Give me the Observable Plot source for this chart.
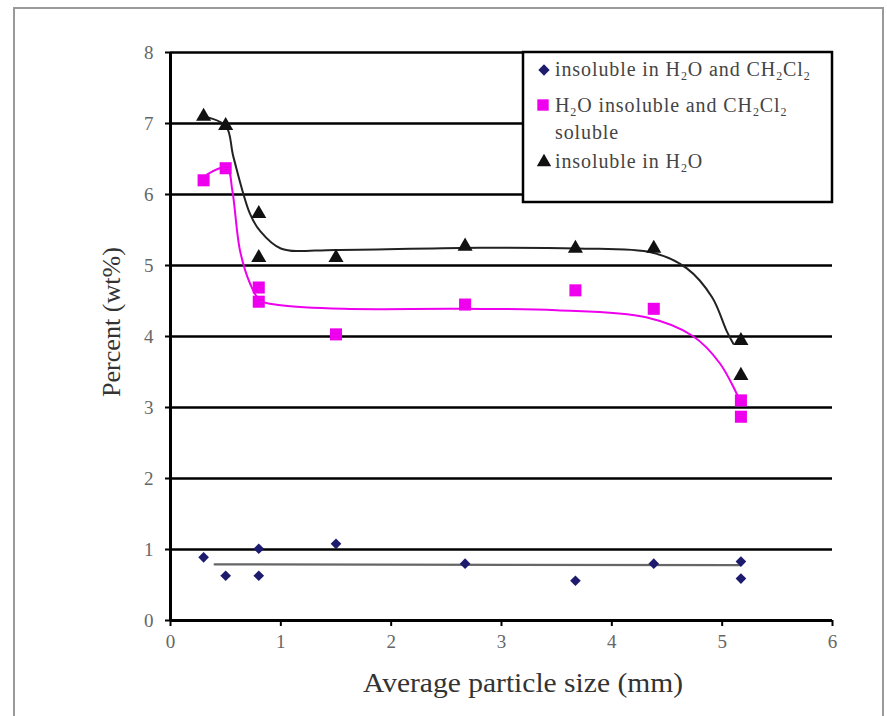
<!DOCTYPE html>
<html>
<head>
<meta charset="utf-8">
<script src="https://cdn.jsdelivr.net/npm/d3@7"></script>
<script src="https://cdn.jsdelivr.net/npm/@observablehq/plot@0.6"></script>
<style>
  html, body { margin: 0; padding: 0; background: #fff; }
  #chart { width: 887px; height: 716px; overflow: hidden; }
</style>
</head>
<body>
<div id="chart"></div>
<script>
// ---- data ----
const xTicks = [0, 1, 2, 3, 4, 5, 6];
const yTicks = [0, 1, 2, 3, 4, 5, 6, 7, 8];

// insoluble in H2O and CH2Cl2 (navy diamonds)
const bothX = [0.3, 0.5, 0.8, 0.8, 1.5, 2.67, 3.67, 4.38, 5.17, 5.17];
const bothY = [0.89, 0.63, 1.01, 0.63, 1.08, 0.80, 0.56, 0.80, 0.83, 0.59];
const bothFitX = [0.4, 5.17];
const bothFitY = [0.79, 0.78];

// H2O insoluble and CH2Cl2 soluble (magenta squares)
const solX = [0.3, 0.5, 0.8, 0.8, 1.5, 2.67, 3.67, 4.38, 5.17, 5.17];
const solY = [6.2, 6.37, 4.69, 4.49, 4.03, 4.45, 4.65, 4.39, 3.1, 2.87];
const solFitX = [0.33, 0.51, 0.56, 0.63, 0.72, 0.81, 1.0, 1.57, 2.62, 3.5, 4.31, 4.73, 4.98, 5.16];
const solFitY = [6.28, 6.38, 6.06, 5.21, 4.75, 4.51, 4.44, 4.39, 4.39, 4.37, 4.27, 4.01, 3.62, 3.1];

// insoluble in H2O (black triangles)
const insX = [0.3, 0.5, 0.8, 0.8, 1.5, 2.67, 3.67, 4.38, 5.17, 5.17];
const insY = [7.1, 6.97, 5.73, 5.11, 5.11, 5.27, 5.24, 5.24, 3.94, 3.45];
const insFitX = [0.3, 0.5, 0.57, 0.72, 0.81, 1.0, 1.5, 2.8, 3.68, 4.37, 4.68, 4.91, 5.04, 5.1];
const insFitY = [7.1, 6.97, 6.53, 5.73, 5.49, 5.24, 5.22, 5.25, 5.24, 5.18, 4.96, 4.55, 4.08, 3.9];

const legendLabels = ["insoluble in H2O and CH2Cl2", "H2O insoluble and CH2Cl2", "soluble", "insoluble in H2O"];
const xLabel = "Average particle size (mm)";
const yLabel = "Percent (wt%)";

// ---- build tables ----
const toRows = (xs, ys) => xs.map((x, i) => ({x, y: ys[i]}));
const both = toRows(bothX, bothY), bothFit = toRows(bothFitX, bothFitY);
const sol = toRows(solX, solY), solFit = toRows(solFitX, solFitY);
const ins = toRows(insX, insY), insFit = toRows(insFitX, insFitY);

const NAVY = "#1d1b6e", MAG = "#ee00ee", BLK = "#111";
const FONT = "'Liberation Serif', 'Times New Roman', serif";

const chart = Plot.plot({
  width: 887,
  height: 716,
  marginLeft: 170,
  marginRight: 55,
  marginTop: 52,
  marginBottom: 96,
  x: {domain: [0, 6]},
  y: {domain: [0, 8]},
  style: {fontFamily: FONT, background: "white", overflow: "visible"},
  marks: [
    Plot.ruleY(yTicks.filter(d => d > 0), {stroke: "black", strokeWidth: 2.5}),
    Plot.axisX({ticks: xTicks, tickFormat: "d", tickSize: 6, tickPadding: 8, stroke: "black", strokeWidth: 2, fill: "#666", fontSize: 19, label: null}),
    Plot.axisY({ticks: yTicks, tickFormat: "d", tickSize: 5, tickPadding: 12, stroke: "black", strokeWidth: 2, fill: "#666", fontSize: 19, label: null}),
    Plot.ruleY([0], {stroke: "black", strokeWidth: 3}),
    Plot.ruleX([0], {stroke: "black", strokeWidth: 3}),
    Plot.line(bothFit, {x: "x", y: "y", stroke: "#666", strokeWidth: 2.2}),
    Plot.line(solFit, {x: "x", y: "y", stroke: MAG, strokeWidth: 2, curve: "catmull-rom"}),
    Plot.line(insFit, {x: "x", y: "y", stroke: "#222", strokeWidth: 2, curve: "catmull-rom"}),
    Plot.dot(both, {x: "x", y: "y", symbol: "diamond2", r: 4.8, fill: NAVY}),
    Plot.dot(sol, {x: "x", y: "y", symbol: "square", r: 6.8, fill: MAG}),
    Plot.dot(ins, {x: "x", y: "y", symbol: "triangle", r: 5.6, fill: BLK})
  ]
});

const svg = d3.select(chart);

// outer gray frame
svg.insert("rect", ":first-child")
  .attr("x", 14).attr("y", 8).attr("width", 869).attr("height", 730)
  .attr("fill", "none").attr("stroke", "#9a9a9a").attr("stroke-width", 2);

// axis labels
svg.append("text")
  .attr("x", 363).attr("y", 692)
  .attr("text-anchor", "start")
  .attr("textLength", 320).attr("lengthAdjust", "spacingAndGlyphs")
  .attr("font-family", FONT).attr("font-size", 28).attr("fill", "#333")
  .text(xLabel);
svg.append("text")
  .attr("transform", "translate(120,397) rotate(-90)")
  .attr("text-anchor", "start")
  .attr("textLength", 150).attr("lengthAdjust", "spacingAndGlyphs")
  .attr("font-family", FONT).attr("font-size", 25).attr("fill", "#333")
  .text(yLabel);

// legend
const lg = svg.append("g").attr("text-anchor", "start");
lg.append("rect").attr("x", 523).attr("y", 52).attr("width", 309).attr("height", 150)
  .attr("fill", "white").attr("stroke", "black").attr("stroke-width", 2.5);

function subText(g, x, y, str) {
  const t = g.append("text").attr("x", x).attr("y", y)
    .attr("text-anchor", "start").attr("letter-spacing", 0.9)
    .attr("font-family", FONT).attr("font-size", 20).attr("fill", "#444");
  const parts = str.split(/(2)/);
  let sub = false;
  parts.forEach(p => {
    if (p === "2") {
      t.append("tspan").attr("font-size", 12).attr("dy", 4).text("2");
      sub = true;
    } else if (p.length) {
      t.append("tspan").attr("dy", sub ? -4 : 0).text(p);
      sub = false;
    }
  });
  return t;
}

const sym = (type, size) => d3.symbol().type(type).size(size)();
lg.append("path").attr("d", sym(d3.symbolSquare, 64)).attr("transform", "translate(544,70) rotate(45)").attr("fill", NAVY);
subText(lg, 555, 76, legendLabels[0]);

lg.append("path").attr("d", sym(d3.symbolSquare, 130)).attr("transform", "translate(543,105)").attr("fill", MAG);
subText(lg, 555, 112, legendLabels[1]);
subText(lg, 555, 139, legendLabels[2]);

lg.append("path").attr("d", sym(d3.symbolTriangle, 90)).attr("transform", "translate(544,162)").attr("fill", BLK);
subText(lg, 555, 168, legendLabels[3]);

document.getElementById("chart").appendChild(chart);
</script>
</body>
</html>
